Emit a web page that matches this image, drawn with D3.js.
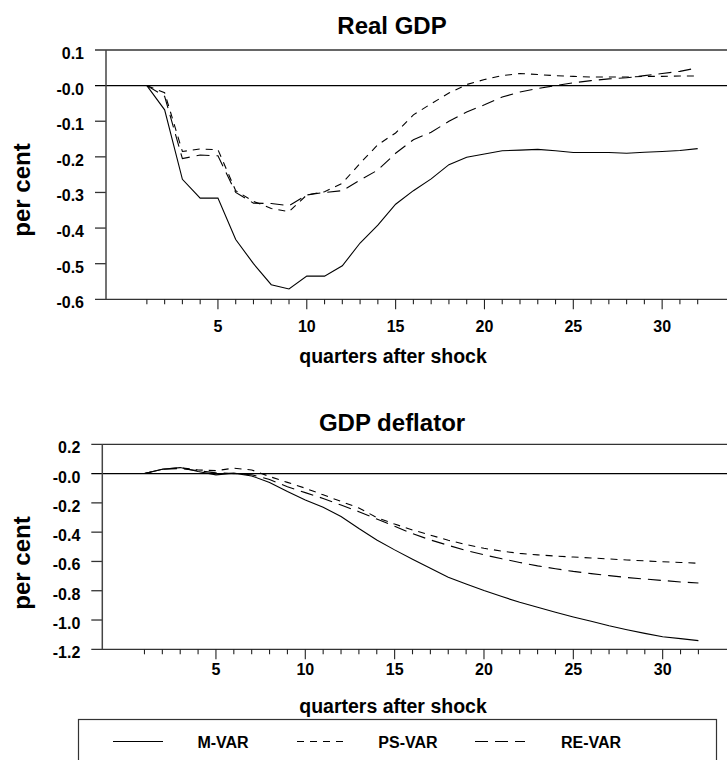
<!DOCTYPE html>
<html>
<head>
<meta charset="utf-8">
<script src="https://cdn.jsdelivr.net/npm/d3@7"></script>
<style>
  html, body { margin: 0; padding: 0; background: #fff; }
  svg { display: block; }
  text { font-family: "Liberation Sans", Arial, sans-serif; font-weight: bold; fill: #000; }
</style>
</head>
<body>
<svg id="chart" width="727" height="760"></svg>
<script>
// Impulse responses to a monetary shock, quarters 1..32
const quarters = d3.range(1, 33);

// Real GDP (per cent)
const gdpMVAR = [0, -0.068, -0.263, -0.316, -0.316, -0.432, -0.50, -0.559, -0.571, -0.535,
  -0.535, -0.506, -0.442, -0.392, -0.333, -0.295, -0.262, -0.222, -0.201, -0.192,
  -0.183, -0.181, -0.179, -0.183, -0.188, -0.188, -0.188, -0.190, -0.187, -0.185,
  -0.182, -0.177];
const gdpPSVAR = [0, -0.02, -0.185, -0.178, -0.18, -0.295, -0.325, -0.345, -0.354, -0.307,
  -0.298, -0.274, -0.218, -0.166, -0.133, -0.082, -0.051, -0.021, 0.003, 0.017,
  0.028, 0.034, 0.031, 0.028, 0.026, 0.024, 0.024, 0.024, 0.026, 0.026,
  0.027, 0.027];
const gdpREVAR = [0, -0.03, -0.205, -0.195, -0.197, -0.30, -0.33, -0.331, -0.337, -0.307,
  -0.30, -0.295, -0.265, -0.237, -0.19, -0.152, -0.131, -0.10, -0.074, -0.054,
  -0.032, -0.018, -0.008, 0.0, 0.008, 0.014, 0.019, 0.022, 0.028, 0.034,
  0.040, 0.050];

// GDP deflator (per cent)
const defMVAR = [0, 0.03, 0.041, 0.014, -0.009, 0.003, -0.016, -0.061, -0.123, -0.18,
  -0.23, -0.293, -0.375, -0.453, -0.521, -0.585, -0.647, -0.708, -0.754, -0.799,
  -0.840, -0.879, -0.913, -0.947, -0.979, -1.009, -1.039, -1.066, -1.091, -1.114,
  -1.127, -1.141];
const defPSVAR = [0, 0.03, 0.04, 0.025, 0.02, 0.037, 0.025, -0.02, -0.06, -0.10,
  -0.145, -0.19, -0.235, -0.30, -0.345, -0.385, -0.42, -0.455, -0.485, -0.51,
  -0.53, -0.545, -0.555, -0.563, -0.57, -0.576, -0.583, -0.59, -0.596, -0.602,
  -0.607, -0.612];
const defREVAR = [0, 0.03, 0.035, 0.02, 0.005, 0.0, -0.008, -0.04, -0.09, -0.13,
  -0.17, -0.215, -0.26, -0.31, -0.36, -0.41, -0.453, -0.49, -0.525, -0.555,
  -0.582, -0.607, -0.63, -0.65, -0.668, -0.683, -0.697, -0.71, -0.72, -0.73,
  -0.74, -0.747];

// Axis tick values and their printed labels
const gdpYTicks = [0.1, 0, -0.1, -0.2, -0.3, -0.4, -0.5, -0.6];
const gdpYLabels = ["0.1", "-0.0", "-0.1", "-0.2", "-0.3", "-0.4", "-0.5", "-0.6"];
const defYTicks = [0.2, 0, -0.2, -0.4, -0.6, -0.8, -1.0, -1.2];
const defYLabels = ["0.2", "-0.0", "-0.2", "-0.4", "-0.6", "-0.8", "-1.0", "-1.2"];
const xMajorTicks = [5, 10, 15, 20, 25, 30];

const seriesNames = ["M-VAR", "PS-VAR", "RE-VAR"];
const dashes = [null, "7,6", "13,7"];

const svg = d3.select("#chart");

function panel(cfg) {
  const x = d3.scaleLinear().domain(cfg.xDomain).range([cfg.left, 727]);
  const y = d3.scaleLinear().domain(cfg.yDomain).range([cfg.bottom, cfg.top]);
  const g = svg.append("g");

  // title
  g.append("text").attr("x", 392).attr("y", cfg.titleY)
    .attr("text-anchor", "middle").style("font-size", "24px").text(cfg.title);

  // y tick marks, with the top, zero and bottom lines running across the panel
  const [yTop, yBot] = [cfg.yTicks[0], cfg.yTicks[cfg.yTicks.length - 1]];
  cfg.yTicks.forEach((v, i) => {
    const full = (v === yTop || v === 0 || v === yBot);
    g.append("line")
      .attr("x1", cfg.left - 11).attr("x2", full ? 727 : cfg.left)
      .attr("y1", y(v)).attr("y2", y(v))
      .attr("stroke", v === 0 ? "#000" : "#333").attr("stroke-width", v === 0 ? 1.1 : 1.3);
    g.append("text").attr("x", cfg.left - 22).attr("y", y(v) + 9)
      .attr("text-anchor", "end").style("font-size", "16px").text(cfg.yLabels[i]);
  });

  // y axis line
  g.append("line").attr("x1", cfg.left).attr("x2", cfg.left)
    .attr("y1", y(yTop)).attr("y2", y(yBot))
    .attr("stroke", "#444").attr("stroke-width", 1.5);

  // x ticks every quarter, longer every five
  quarters.forEach(q => {
    const major = xMajorTicks.includes(q);
    g.append("line").attr("x1", x(q)).attr("x2", x(q))
      .attr("y1", y(yBot)).attr("y2", y(yBot) + (major ? 10 : 5))
      .attr("stroke", "#222").attr("stroke-width", 1.1);
  });
  xMajorTicks.forEach(q => {
    g.append("text").attr("x", x(q)).attr("y", cfg.xTickLabelY)
      .attr("text-anchor", "middle").style("font-size", "16px").text(q);
  });

  g.append("text").attr("x", 393).attr("y", cfg.xTitleY)
    .attr("text-anchor", "middle").style("font-size", "19.5px").text("quarters after shock");

  g.append("text")
    .attr("transform", `translate(30,${cfg.yTitleY}) rotate(-90)`)
    .attr("text-anchor", "middle").style("font-size", "24px").text("per cent");

  // response lines
  const line = d3.line().x((d, i) => x(quarters[i])).y(d => y(d));
  cfg.series.forEach((s, i) => {
    g.append("path").datum(s).attr("d", line)
      .attr("fill", "none").attr("stroke", "#000").attr("stroke-width", 1.1)
      .attr("stroke-dasharray", dashes[i]);
  });
}

panel({
  title: "Real GDP", titleY: 34,
  left: 106, top: 50, bottom: 299.3,
  xDomain: [-1.3, 33.65], yDomain: [-0.6, 0.1],
  yTicks: gdpYTicks, yLabels: gdpYLabels,
  xTickLabelY: 332, xTitleY: 363, yTitleY: 190,
  series: [gdpMVAR, gdpPSVAR, gdpREVAR]
});

panel({
  title: "GDP deflator", titleY: 431,
  left: 102.3, top: 444.3, bottom: 649.3,
  xDomain: [-1.36, 33.6], yDomain: [-1.2, 0.2],
  yTicks: defYTicks, yLabels: defYLabels,
  xTickLabelY: 675, xTitleY: 713, yTitleY: 563,
  series: [defMVAR, defPSVAR, defREVAR]
});

// legend
const legend = svg.append("g");
legend.append("rect").attr("x", 78.5).attr("y", 719.5).attr("width", 638).attr("height", 60)
  .attr("fill", "none").attr("stroke", "#333").attr("stroke-width", 1.2);
const legendX = [113, 297, 475];
const legendTextX = [223, 408, 591];
seriesNames.forEach((name, i) => {
  legend.append("line").attr("x1", legendX[i]).attr("x2", legendX[i] + 50)
    .attr("y1", 741.5).attr("y2", 741.5)
    .attr("stroke", "#000").attr("stroke-width", 1.1).attr("stroke-dasharray", dashes[i]);
  legend.append("text").attr("x", legendTextX[i]).attr("y", 748)
    .attr("text-anchor", "middle").style("font-size", "16px").text(name);
});
</script>
</body>
</html>
